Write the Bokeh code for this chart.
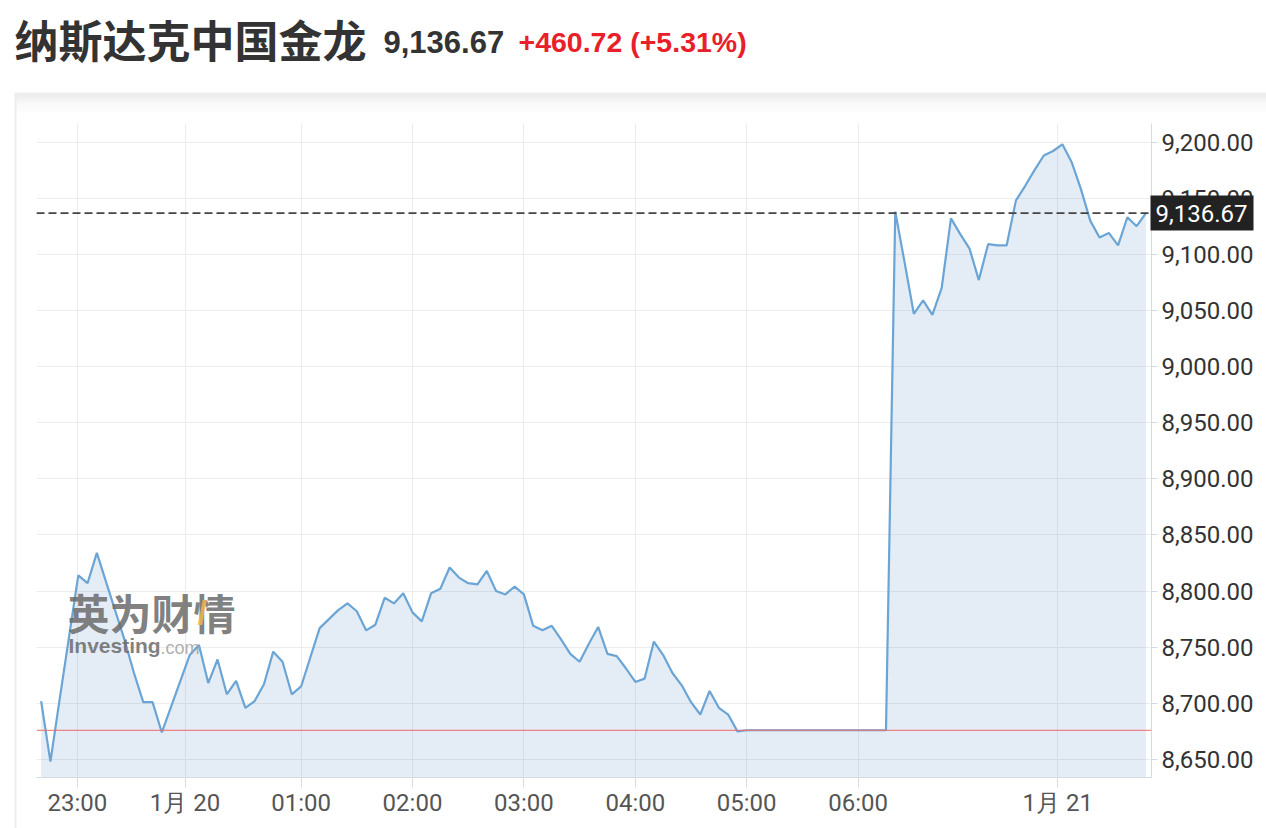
from bokeh.plotting import figure
from bokeh.models import (Range1d, FixedTicker, NumeralTickFormatter, Span, Label,
                          BoxAnnotation, ColumnDataSource, GridBox)
from bokeh.embed import file_html
from bokeh.resources import INLINE

# ---------------- data ----------------
title_text = "纳斯达克中国金龙"
last_price = 9136.67
change_abs = 460.72
change_pct = 5.31
prev_close = 8675.95

# 5-minute closes (ordinal axis, trading gap removed)
prices = [
    8702, 8648, 8704, 8759, 8814, 8807, 8834, 8808, 8782, 8756,
    8727, 8701, 8701, 8674, 8697, 8720, 8743, 8752, 8718, 8739,
    8708, 8720, 8696, 8702, 8717, 8746, 8737, 8708, 8715, 8741,
    8767, 8775, 8783, 8789, 8782, 8765, 8770, 8794, 8789, 8798,
    8781, 8773, 8798, 8802, 8821, 8812, 8807, 8806, 8818, 8800,
    8797, 8804, 8797, 8769, 8765, 8769, 8757, 8744, 8737, 8753,
    8768, 8744, 8742, 8731, 8719, 8722, 8755, 8743, 8727, 8716,
    8701, 8690, 8711, 8696, 8690, 8675, 8676, 8676, 8676, 8676,
    8676, 8676, 8676, 8676, 8676, 8676, 8676, 8676, 8676, 8676,
    8676, 8676, 9138, 9093, 9047, 9059, 9046, 9070, 9132, 9118,
    9105, 9077, 9109, 9108, 9108, 9148, 9161, 9175, 9188, 9192,
    9198, 9182, 9158, 9130, 9115, 9119, 9108, 9133, 9125, 9136.67,
]

x_tick_pos = [3.9, 15.5, 28, 40, 52, 64, 76, 88, 109.5]
x_tick_labels = ["23:00", "1月 20", "01:00", "02:00", "03:00", "04:00",
                 "05:00", "06:00", "1月 21"]
y_ticks = [8650, 8700, 8750, 8800, 8850, 8900, 8950, 9000, 9050, 9100, 9150, 9200]

# ---------------- layout constants ----------------
W, H = 1266, 828
F_LEFT, F_RIGHT, F_TOP, F_BOTTOM = 36, 1151, 123, 777   # plot frame in page px
x_lo, x_hi = -0.5, 119.6
y_lo, y_hi = 8633.9, 9216.5

# ---------------- main chart ----------------
idx = list(range(len(prices)))
src = ColumnDataSource(dict(x=idx, price=prices))

p = figure(width=W, height=H, output_backend="svg", toolbar_location=None,
           x_range=Range1d(x_lo, x_hi), y_range=Range1d(y_lo, y_hi),
           y_axis_location="right",
           min_border_left=F_LEFT, min_border_right=W - F_RIGHT,
           min_border_top=F_TOP, min_border_bottom=H - F_BOTTOM)
p.outline_line_color = None
p.background_fill_color = "white"
p.border_fill_color = "white"

p.xgrid.ticker = FixedTicker(ticks=x_tick_pos)
p.ygrid.ticker = FixedTicker(ticks=y_ticks)
p.grid.grid_line_color = "#ececec"
p.grid.grid_line_width = 1

p.varea(x="x", y1=y_lo, y2="price", source=src, fill_color="#78a0cd", fill_alpha=0.2)
p.line(x="x", y="price", source=src, line_color="#6ba5d6", line_width=2.2)

xa = p.xaxis[0]
xa.ticker = FixedTicker(ticks=x_tick_pos)
xa.major_label_overrides = {t: l for t, l in zip(x_tick_pos, x_tick_labels)}
xa.axis_line_color = "#d5dbe3"
xa.major_tick_line_color = "#d5dbe3"
xa.major_tick_out = 10
xa.major_tick_in = 0
xa.minor_tick_line_color = None
xa.major_label_text_font = "Roboto"
xa.major_label_text_font_size = "24px"
xa.major_label_text_color = "#555555"
xa.major_label_standoff = 1

ya = p.yaxis[0]
ya.ticker = FixedTicker(ticks=y_ticks)
ya.formatter = NumeralTickFormatter(format="0,0.00")
ya.axis_line_color = "#d5dbe3"
ya.major_tick_line_color = "#d5dbe3"
ya.major_tick_out = 6
ya.major_tick_in = 0
ya.minor_tick_line_color = None
ya.major_label_text_font = "Roboto"
ya.major_label_text_font_size = "24px"
ya.major_label_text_color = "#333333"
ya.major_label_standoff = 4

p.add_layout(Span(location=prev_close, dimension="width", line_color="#ee6b6b",
                  line_alpha=0.8, line_width=1.2))
p.add_layout(Span(location=last_price, dimension="width", line_color="#444444",
                  line_width=1.6, line_dash="8 4"))

# watermark (inside the frame, frame-relative screen units)
def sx(px):
    return px - F_LEFT
def sy(py):
    return F_BOTTOM - py

wm = dict(x_units="screen", y_units="screen", text_baseline="middle", text_alpha=0.85)
p.add_layout(Label(x=sx(67), y=sy(611), text="英为财情", text_font="Noto Sans CJK SC",
                   text_font_style="bold", text_font_size="42px", text_color="#6a6a6a", **wm))
p.add_layout(Label(x=sx(197), y=sy(611), text="/", text_font="Liberation Sans",
                   text_font_style="bold", text_font_size="34px", text_color="#f5b547", **wm))
p.add_layout(Label(x=sx(68), y=sy(645), text="Investing", text_font="Liberation Sans",
                   text_font_style="bold", text_font_size="21px", text_color="#6a6a6a", **wm))
p.add_layout(Label(x=sx(160), y=sy(647), text=".com", text_font="Liberation Sans",
                   text_font_size="18px", text_color="#a0a0a0", **wm))

# ---------------- overlay (page-pixel coordinates) ----------------
ov = figure(width=W, height=H, output_backend="svg", toolbar_location=None,
            x_range=Range1d(0, W), y_range=Range1d(H, 0),
            x_axis_location=None, y_axis_location=None,
            min_border_left=0, min_border_right=0, min_border_top=0, min_border_bottom=0)
ov.outline_line_color = None
ov.background_fill_alpha = 0
ov.border_fill_alpha = 0
ov.grid.visible = False

for fig in (p, ov):
    if "frame_align" in fig.properties():
        fig.frame_align = False

# container border + soft top shadow
ov.add_layout(BoxAnnotation(left=15, right=W + 50, top=93, bottom=H + 50,
                            fill_alpha=0, line_color="#c4c4c4", line_width=2))
for y0, y1, a in [(94, 97, 0.07), (97, 100, 0.05), (100, 103, 0.035),
                  (103, 107, 0.02), (107, 112, 0.01)]:
    ov.add_layout(BoxAnnotation(left=16, right=W, top=y0, bottom=y1,
                                fill_color="black", fill_alpha=a, line_alpha=0))

# header
ov.add_layout(Label(x=14, y=38.5, text=title_text, text_font="Noto Sans CJK SC",
                    text_font_style="bold", text_font_size="44px", text_color="#333333",
                    text_baseline="middle"))
ov.add_layout(Label(x=383, y=41, text=f"{last_price:,.2f}", text_font="Liberation Sans",
                    text_font_style="bold", text_font_size="31px", text_color="#333333",
                    text_baseline="middle"))
ov.add_layout(Label(x=518, y=41, text=f"+{change_abs:.2f} (+{change_pct:.2f}%)",
                    text_font="Liberation Sans", text_font_style="bold",
                    text_font_size="28.5px", text_color="#e8202a", text_baseline="middle"))

# last-price tag on the right axis
px_per_unit = (F_BOTTOM - F_TOP) / (y_hi - y_lo)
tag_y = F_TOP + (y_hi - last_price) * px_per_unit
ov.add_layout(BoxAnnotation(left=1150, right=1253, top=tag_y - 17.5, bottom=tag_y + 17.5,
                            fill_color="#222222", fill_alpha=1, line_alpha=0))
ov.add_layout(Label(x=1155, y=tag_y, text=f"{last_price:,.2f}", text_font="Roboto",
                    text_font_size="24px", text_color="white", text_baseline="middle"))

layout = GridBox(children=[(p, 0, 0), (ov, 0, 0)])
open("out.html", "w").write(file_html(layout, INLINE))
